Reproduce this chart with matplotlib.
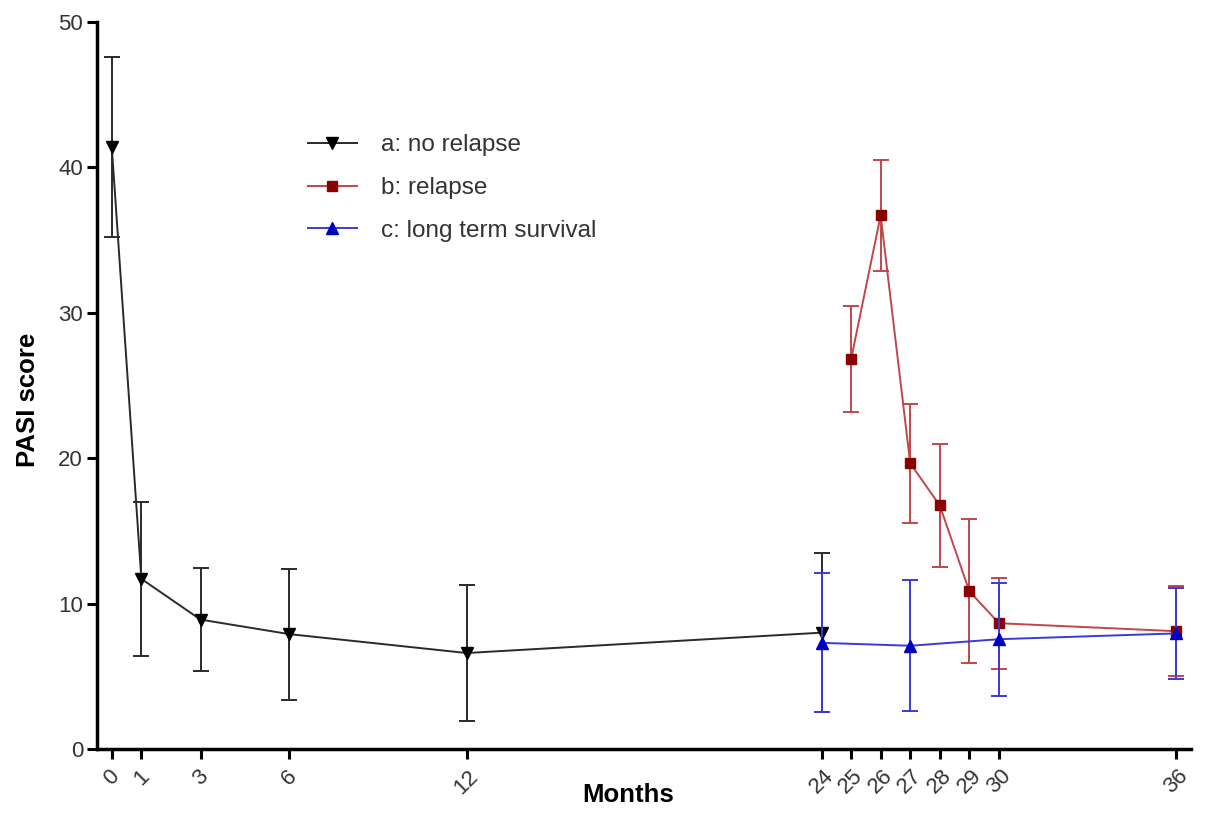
import matplotlib
matplotlib.use('Agg')
import matplotlib.pyplot as plt
import matplotlib.transforms as mtransforms
from matplotlib.lines import Line2D

plt.rcParams['font.family'] = ['Liberation Sans', 'DejaVu Sans']

# Data (mean +/- SD)
months_a = [0, 1, 3, 6, 12, 24]
mean_a = [41.4, 11.7, 8.9, 7.9, 6.6, 8.0]
sd_a = [6.2, 5.3, 3.55, 4.5, 4.7, 5.45]

months_b = [25, 26, 27, 28, 29, 30, 36]
mean_b = [26.8, 36.7, 19.65, 16.75, 10.85, 8.65, 8.1]
sd_b = [3.65, 3.8, 4.1, 4.25, 4.95, 3.13, 3.1]

months_c = [24, 27, 30, 36]
mean_c = [7.3, 7.1, 7.55, 7.95]
sd_c = [4.77, 4.5, 3.9, 3.15]

tick_months = [0, 1, 3, 6, 12, 24, 25, 26, 27, 28, 29, 30, 36]

styles = {
    'a': dict(color='#2a2a2a', marker='v', ms=9, mfc='black', mec='black'),
    'b': dict(color='#c0464a', marker='s', ms=7, mfc='#8b0000', mec='#8b0000'),
    'c': dict(color='#3a3ad8', marker='^', ms=9, mfc='#0000c0', mec='#0000c0'),
}
labels = {'a': 'a: no relapse', 'b': 'b: relapse', 'c': 'c: long term survival'}

fig = plt.figure(figsize=(12.05, 8.15), dpi=100)
ax = fig.add_axes([0.0805, 0.081, 0.908, 0.892])

for key, x, y, e, z in [('a', months_a, mean_a, sd_a, 3),
                        ('b', months_b, mean_b, sd_b, 4),
                        ('c', months_c, mean_c, sd_c, 5)]:
    s = styles[key]
    ax.errorbar(x, y, yerr=e, color=s['color'], marker=s['marker'],
                markersize=s['ms'], markerfacecolor=s['mfc'],
                markeredgecolor=s['mec'], lw=1.4, elinewidth=1.4,
                capsize=6, capthick=1.4, zorder=z)

ax.set_xlim(-0.5, 36.5)
ax.set_ylim(0, 50)
ax.set_xticks(tick_months)
ax.set_xticklabels([str(m) for m in tick_months], rotation=45, ha='center',
                   fontsize=16, color='#333333')
shift = mtransforms.ScaledTranslation(-4 / 100, 0, fig.dpi_scale_trans)
for lab in ax.get_xticklabels():
    lab.set_transform(lab.get_transform() + shift)
ax.set_yticks([0, 10, 20, 30, 40, 50])
ax.tick_params(axis='y', labelsize=16, labelcolor='#333333', pad=3)
ax.tick_params(axis='x', pad=5)
ax.tick_params(direction='out', length=7, width=2.2)

for side in ['top', 'right']:
    ax.spines[side].set_visible(False)
for side in ['left', 'bottom']:
    ax.spines[side].set_linewidth(2.5)

ax.set_xlabel('Months', fontsize=18.5, fontweight='bold')
ax.xaxis.set_label_coords(0.485, -0.047)
ax.set_ylabel('PASI score', fontsize=18.5, fontweight='bold')
ax.yaxis.set_label_coords(-0.052, 0.48)

handles = [Line2D([], [], color=styles[k]['color'], marker=styles[k]['marker'],
                  markersize=styles[k]['ms'], markerfacecolor=styles[k]['mfc'],
                  markeredgecolor=styles[k]['mec'], lw=1.4) for k in 'abc']
leg = fig.legend(handles, [labels[k] for k in 'abc'], loc='upper left',
                 bbox_to_anchor=(0.2556, 0.835), frameon=False, fontsize=17.5,
                 handlelength=2.0, labelspacing=0.85, handletextpad=1.0,
                 borderpad=0, borderaxespad=0)
for t in leg.get_texts():
    t.set_color('#333333')

fig.savefig('out.png', dpi=100)
